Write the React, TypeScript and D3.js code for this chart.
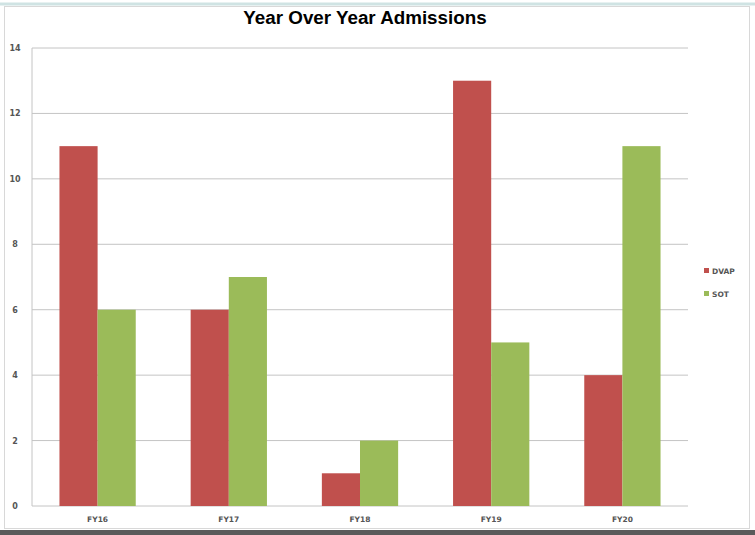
import React from "react";
import * as d3 from "d3";

const categories = ["FY16", "FY17", "FY18", "FY19", "FY20"];
const series = ["DVAP", "SOT"];
const dvap = [11, 6, 1, 13, 4];
const sot = [6, 7, 2, 5, 11];
const yTicks = [0, 2, 4, 6, 8, 10, 12, 14];
const colors = ["#c0504d", "#9bbb59"];

export default function App() {
  const W = 755, H = 535;
  const left = 32, right = 688, top = 48, bottom = 506;
  const x = d3.scaleBand().domain(categories).range([left, right]).paddingInner(0).paddingOuter(0);
  const x1 = d3.scaleBand().domain(series).range([0, x.bandwidth()]).paddingInner(0).paddingOuter(0.72);
  const y = d3.scaleLinear().domain([0, 14]).range([bottom, top]);
  const values = [dvap, sot];
  return (
    <svg width={W} height={H} style={{ position: "absolute", left: 0, top: 0, display: "block" }}>
      <rect x={0} y={0} width={W} height={H} fill="#ffffff" />
      <line x1={0} x2={W} y1={4} y2={4} stroke="#cfe3e3" strokeWidth={3} />
      <rect x={4.5} y={6.5} width={745} height={522} fill="#ffffff" stroke="#d8d8d8" strokeWidth={1} />
      <rect x={0} y={530} width={W} height={5} fill="#5a5a5a" />
      <text x={365} y={24} textAnchor="middle" fontFamily="Liberation Sans, Arial, sans-serif" fontWeight="bold" fontSize={18.8} fill="#000">
        Year Over Year Admissions
      </text>
      {yTicks.map((t) => (
        <g key={t}>
          <line x1={left} x2={right} y1={y(t)} y2={y(t)} stroke="#c4c4c4" strokeWidth={1} />
          <text x={15} y={y(t) + 3} textAnchor="middle" fontFamily="DejaVu Sans, sans-serif" fontSize={8} fontWeight="bold" fill="#555">
            {t}
          </text>
        </g>
      ))}
      <line x1={left} x2={left} y1={top} y2={bottom} stroke="#c4c4c4" strokeWidth={1} />
      {categories.map((c, i) => (
        <g key={c}>
          {series.map((s, j) => (
            <rect
              key={s}
              x={(x(c) as number) + (x1(s) as number)}
              y={y(values[j][i])}
              width={x1.bandwidth()}
              height={y(0) - y(values[j][i])}
              fill={colors[j]}
            />
          ))}
          <text x={(x(c) as number) + x.bandwidth() / 2} y={522} textAnchor="middle" fontFamily="DejaVu Sans, sans-serif" fontSize={7.5} fontWeight="bold" fill="#555">
            {c}
          </text>
        </g>
      ))}
      {series.map((s, j) => (
        <g key={s} transform={`translate(708, ${271 + j * 23})`}>
          <rect x={-4} y={-3} width={5} height={5} fill={colors[j]} />
          <text x={4} y={3} fontFamily="DejaVu Sans, sans-serif" fontSize={7.5} fontWeight="bold" fill="#555">
            {s}
          </text>
        </g>
      ))}
    </svg>
  );
}
